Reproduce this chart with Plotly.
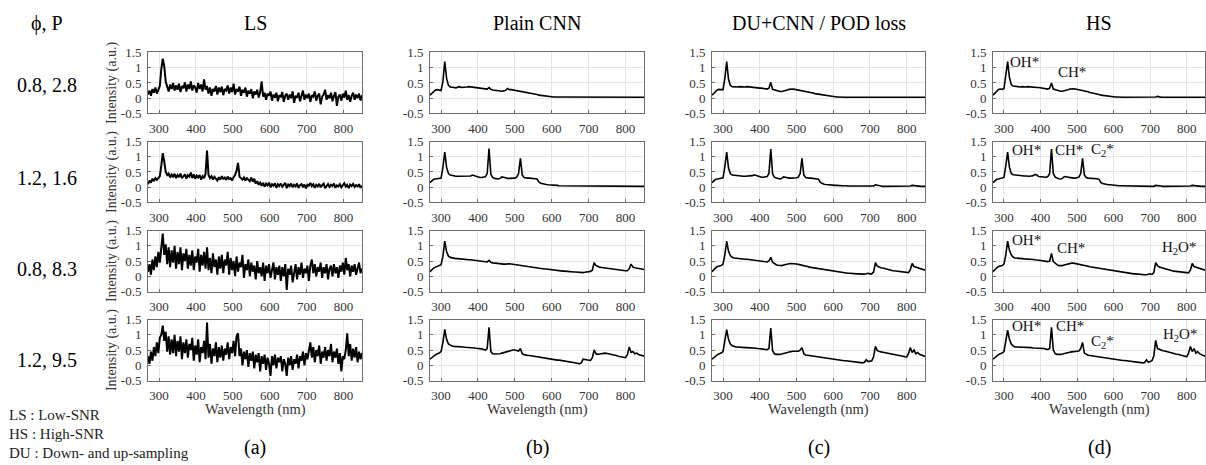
import plotly.graph_objects as go

# ---------------- data ----------------
WL_LS = list(range(270, 851, 4))   # low-SNR sampling grid (nm)
WL = list(range(270, 851, 5))      # reconstructed / high-SNR grid (nm)

ROW_LABELS = ["0.8, 2.8", "1.2, 1.6", "0.8, 8.3", "1.2, 9.5"]
COL_TITLES = ["LS", "Plain CNN", "DU+CNN / POD loss", "HS"]
PANEL_TAGS = ["(a)", "(b)", "(c)", "(d)"]
X_TICKS = [300, 400, 500, 600, 700, 800]
Y_TICKS = [-0.5, 0, 0.5, 1, 1.5]
Y_TICKTEXT = ["-0.5", "0", "0.5", "1", "1.5"]
NOTES = ["LS : Low-SNR", "HS : High-SNR", "DU : Down- and up-sampling"]

LS_R1 = [0.12, 0.25, 0.08, 0.30, 0.18, 0.35, 0.15, 0.28, 0.40, 0.95,
         1.30, 1.05, 0.55, 0.38, 0.22, 0.45, 0.30, 0.50, 0.25, 0.42,
         0.28, 0.48, 0.20, 0.40, 0.33, 0.52, 0.22, 0.45, 0.30, 0.55,
         0.25, 0.42, 0.35, 0.18, 0.50, 0.30, 0.45, 0.22, 0.62, 0.28,
         0.40, 0.15, 0.35, 0.08, 0.30, 0.22, 0.40, 0.12, 0.35, 0.20,
         0.38, 0.10, 0.30, 0.25, 0.42, 0.15, 0.35, 0.20, 0.48, 0.12,
         0.30, 0.22, 0.38, 0.08, 0.28, 0.18, 0.35, 0.05, 0.25, 0.15,
         0.30, 0.00, 0.22, 0.12, 0.28, 0.02, 0.20, 0.55, 0.05, 0.18,
         -0.05, 0.15, 0.08, 0.22, -0.08, 0.12, 0.02, 0.18, -0.10, 0.10,
         0.05, 0.20, -0.12, 0.08, 0.15, -0.05, 0.12, 0.00, 0.22, -0.15,
         0.08, 0.02, 0.18, -0.10, 0.10, 0.25, -0.05, 0.12, 0.00, 0.15,
         -0.12, 0.10, 0.05, 0.22, -0.08, 0.08, 0.15, -0.20, 0.05, 0.12,
         0.28, -0.05, 0.10, 0.00, 0.18, -0.10, 0.08, 0.20, -0.25, 0.05,
         0.12, -0.08, 0.15, 0.02, 0.25, -0.05, 0.10, -0.12, 0.08, 0.18,
         -0.05, 0.12, 0.00, 0.15, -0.08, 0.10]
LS_R2 = [0.10, 0.22, 0.15, 0.28, 0.20, 0.30, 0.24, 0.32, 0.36, 0.70,
         1.12, 0.85, 0.50, 0.40, 0.45, 0.32, 0.42, 0.35, 0.44, 0.30,
         0.40, 0.33, 0.45, 0.30, 0.38, 0.42, 0.28, 0.40, 0.35, 0.48,
         0.30, 0.42, 0.28, 0.38, 0.32, 0.40, 0.25, 0.36, 0.30, 0.45,
         1.20, 0.40, 0.30, 0.36, 0.25, 0.34, 0.28, 0.22, 0.33, 0.25,
         0.36, 0.28, 0.32, 0.24, 0.35, 0.27, 0.30, 0.22, 0.33, 0.40,
         0.55, 0.80, 0.35, 0.30, 0.25, 0.32, 0.22, 0.30, 0.26, 0.20,
         0.32, 0.18, 0.28, 0.12, 0.20, 0.08, 0.15, 0.05, 0.14, 0.02,
         0.12, 0.06, 0.15, 0.00, 0.10, 0.05, 0.13, -0.02, 0.10, 0.04,
         0.12, 0.02, 0.08, 0.14, -0.03, 0.09, 0.04, 0.12, 0.00, 0.08,
         0.03, 0.12, -0.02, 0.07, 0.10, 0.02, 0.09, -0.04, 0.08, 0.05,
         0.14, 0.04, 0.10, -0.02, 0.08, 0.03, 0.11, 0.00, 0.07, 0.12,
         -0.03, 0.06, 0.10, 0.01, 0.08, 0.04, 0.12, -0.02, 0.06, 0.03,
         0.10, 0.00, 0.07, 0.13, 0.02, 0.08, -0.03, 0.09, 0.04, 0.11,
         0.01, 0.07, 0.03, 0.10, -0.02, 0.06]
LS_R3 = [0.15, 0.40, 0.05, 0.55, 0.20, 0.65, 0.30, 0.80, 0.45, 1.00,
         1.40, 0.70, 1.05, 0.40, 0.95, 0.30, 0.85, 0.45, 1.00, 0.25,
         0.80, 0.40, 0.95, 0.20, 0.75, 0.50, 0.90, 0.25, 0.70, 0.35,
         0.85, 0.20, 0.65, 0.45, 0.90, 0.15, 0.70, 0.35, 0.80, 0.25,
         0.95, 0.20, 0.60, 0.10, 0.75, 0.30, 0.55, 0.05, 0.65, 0.25,
         0.70, 0.10, 0.55, 0.35, 0.80, 0.05, 0.60, 0.20, 0.50, 0.00,
         0.65, 0.15, 0.45, 0.30, 0.70, -0.05, 0.40, 0.20, 0.55, 0.00,
         0.45, 0.15, 0.35, -0.10, 0.50, 0.10, 0.30, 0.00, 0.45, -0.15,
         0.35, 0.10, 0.40, -0.05, 0.25, 0.45, -0.10, 0.30, 0.05, 0.35,
         -0.15, 0.30, 0.00, 0.40, -0.45, 0.25, 0.05, 0.35, -0.20, 0.20,
         0.40, -0.10, 0.30, 0.05, 0.45, -0.05, 0.25, 0.10, 0.35, -0.15,
         0.35, 0.55, 0.10, 0.40, 0.00, 0.30, 0.15, 0.45, -0.05, 0.30,
         0.10, 0.40, -0.10, 0.25, 0.35, 0.00, 0.40, 0.10, 0.30, -0.05,
         0.35, 0.15, 0.45, 0.05, 0.60, 0.20, 0.40, 0.00, 0.35, 0.15,
         0.40, 0.05, 0.30, 0.45, 0.10, 0.25]
LS_R4 = [0.30, 0.05, 0.45, 0.15, 0.60, 0.30, 0.75, 0.40, 0.90, 1.00,
         1.30, 0.80, 1.10, 0.45, 0.95, 0.35, 0.85, 0.40, 1.00, 0.30,
         0.80, 0.45, 0.95, 0.20, 0.75, 0.40, 0.85, 0.25, 0.70, 0.50,
         0.90, 0.15, 0.65, 0.35, 0.85, 0.10, 0.60, 0.40, 0.80, 0.20,
         1.40, 0.25, 0.70, 0.05, 0.55, 0.30, 0.75, 0.10, 0.60, 0.25,
         0.65, 0.15, 0.55, 0.35, 0.75, 0.20, 0.60, 0.40, 0.80, 0.30,
         0.95, 1.05, 0.30, 0.55, 0.00, 0.45, 0.20, 0.50, -0.05, 0.40,
         0.15, 0.45, -0.10, 0.35, 0.10, 0.40, -0.20, 0.30, 0.05, 0.35,
         -0.15, 0.25, 0.05, -0.35, 0.30, 0.00, 0.35, -0.10, 0.25, 0.10,
         0.30, -0.20, 0.20, 0.05, -0.35, 0.25, 0.00, 0.30, -0.15, 0.20,
         0.05, 0.35, -0.10, 0.30, 0.15, 0.45, 0.00, 0.40, 0.20, 0.55,
         0.75, 0.25, 0.60, 0.10, 0.50, 0.30, 0.65, 0.05, 0.45, 0.25,
         0.60, 0.15, 0.50, 0.30, 0.70, 0.10, 0.45, 0.25, 0.55, 0.05,
         0.40, -0.20, 0.30, 0.20, 0.50, 1.05, 0.30, 0.70, 0.15, 0.55,
         0.25, 0.60, 0.10, 0.45, 0.20, 0.40]

CNN_R1 = [0.10, 0.15, 0.22, 0.27, 0.28, 0.27, 0.25, 0.55, 1.20, 0.65,
          0.42, 0.37, 0.35, 0.35, 0.34, 0.35, 0.38, 0.35, 0.35, 0.36,
          0.37, 0.38, 0.37, 0.36, 0.35, 0.34, 0.34, 0.33, 0.32, 0.31,
          0.30, 0.30, 0.35, 0.29, 0.27, 0.26, 0.25, 0.24, 0.24, 0.23,
          0.24, 0.26, 0.32, 0.28, 0.28, 0.27, 0.26, 0.25, 0.24, 0.23,
          0.22, 0.20, 0.19, 0.18, 0.17, 0.16, 0.15, 0.13, 0.12, 0.10,
          0.09, 0.08, 0.07, 0.06, 0.05, 0.05, 0.04, 0.04, 0.04, 0.04,
          0.05, 0.04, 0.03, 0.03, 0.03, 0.03, 0.03, 0.03, 0.03, 0.03,
          0.03, 0.03, 0.03, 0.03, 0.03, 0.03, 0.03, 0.03, 0.03, 0.03,
          0.03, 0.03, 0.03, 0.03, 0.03, 0.03, 0.03, 0.03, 0.03, 0.03,
          0.03, 0.03, 0.03, 0.03, 0.03, 0.03, 0.03, 0.03, 0.03, 0.03,
          0.03, 0.03, 0.03, 0.03, 0.03, 0.03, 0.03]
CNN_R2 = [0.15, 0.22, 0.26, 0.27, 0.28, 0.28, 0.30, 0.65, 1.15, 0.65,
          0.45, 0.40, 0.38, 0.37, 0.36, 0.36, 0.36, 0.35, 0.35, 0.35,
          0.35, 0.36, 0.37, 0.40, 0.38, 0.34, 0.33, 0.32, 0.32, 0.32,
          0.34, 0.45, 1.27, 0.42, 0.32, 0.29, 0.27, 0.27, 0.29, 0.34,
          0.33, 0.30, 0.29, 0.29, 0.29, 0.29, 0.30, 0.33, 0.45, 0.95,
          0.40, 0.32, 0.30, 0.30, 0.30, 0.30, 0.29, 0.28, 0.27, 0.17,
          0.13, 0.11, 0.10, 0.09, 0.08, 0.08, 0.07, 0.07, 0.06, 0.06,
          0.05, 0.05, 0.05, 0.05, 0.04, 0.04, 0.04, 0.04, 0.04, 0.04,
          0.04, 0.04, 0.04, 0.03, 0.03, 0.03, 0.03, 0.03, 0.03, 0.05,
          0.05, 0.04, 0.04, 0.03, 0.03, 0.03, 0.03, 0.03, 0.03, 0.03,
          0.03, 0.03, 0.03, 0.03, 0.03, 0.03, 0.03, 0.03, 0.04, 0.05,
          0.04, 0.04, 0.03, 0.03, 0.03, 0.03, 0.03]
CNN_R3 = [0.15, 0.22, 0.27, 0.30, 0.32, 0.34, 0.38, 0.65, 1.15, 0.80,
          0.66, 0.62, 0.60, 0.59, 0.58, 0.58, 0.57, 0.56, 0.56, 0.55,
          0.55, 0.54, 0.54, 0.53, 0.52, 0.51, 0.50, 0.50, 0.49, 0.48,
          0.47, 0.47, 0.52, 0.46, 0.44, 0.43, 0.42, 0.41, 0.41, 0.40,
          0.40, 0.40, 0.41, 0.41, 0.40, 0.39, 0.39, 0.38, 0.37, 0.37,
          0.36, 0.35, 0.34, 0.33, 0.32, 0.31, 0.30, 0.29, 0.28, 0.27,
          0.26, 0.25, 0.24, 0.24, 0.23, 0.22, 0.21, 0.21, 0.20, 0.19,
          0.18, 0.18, 0.17, 0.17, 0.16, 0.16, 0.15, 0.15, 0.14, 0.14,
          0.13, 0.13, 0.12, 0.12, 0.13, 0.14, 0.15, 0.16, 0.20, 0.45,
          0.35, 0.32, 0.30, 0.29, 0.28, 0.27, 0.26, 0.25, 0.24, 0.23,
          0.22, 0.21, 0.20, 0.20, 0.19, 0.19, 0.18, 0.18, 0.25, 0.40,
          0.30, 0.28, 0.27, 0.25, 0.24, 0.23, 0.22]
CNN_R4 = [0.20, 0.26, 0.30, 0.35, 0.38, 0.40, 0.45, 0.75, 1.18, 0.85,
          0.70, 0.65, 0.63, 0.62, 0.62, 0.61, 0.61, 0.60, 0.60, 0.59,
          0.59, 0.58, 0.58, 0.57, 0.57, 0.56, 0.56, 0.55, 0.54, 0.52,
          0.50, 0.55, 1.25, 0.45, 0.38, 0.37, 0.37, 0.38, 0.38, 0.40,
          0.42, 0.44, 0.46, 0.48, 0.49, 0.50, 0.50, 0.48, 0.47, 0.55,
          0.38, 0.35, 0.33, 0.32, 0.32, 0.31, 0.30, 0.28, 0.27, 0.25,
          0.24, 0.23, 0.22, 0.21, 0.20, 0.19, 0.18, 0.18, 0.17, 0.17,
          0.17, 0.16, 0.16, 0.15, 0.15, 0.14, 0.12, 0.11, 0.10, 0.09,
          0.07, 0.05, 0.08, 0.20, 0.19, 0.18, 0.17, 0.16, 0.25, 0.50,
          0.38, 0.36, 0.37, 0.38, 0.40, 0.40, 0.39, 0.38, 0.36, 0.35,
          0.33, 0.32, 0.30, 0.29, 0.28, 0.27, 0.25, 0.35, 0.60, 0.42,
          0.45, 0.38, 0.40, 0.35, 0.33, 0.31, 0.30]

DU_R1 = [0.10, 0.17, 0.24, 0.28, 0.29, 0.28, 0.28, 0.65, 1.20, 0.62,
         0.42, 0.38, 0.37, 0.38, 0.37, 0.38, 0.37, 0.38, 0.37, 0.38,
         0.37, 0.36, 0.36, 0.35, 0.35, 0.34, 0.33, 0.33, 0.32, 0.31,
         0.30, 0.33, 0.52, 0.29, 0.27, 0.25, 0.23, 0.22, 0.22, 0.23,
         0.25, 0.27, 0.29, 0.30, 0.30, 0.29, 0.28, 0.27, 0.26, 0.25,
         0.24, 0.23, 0.21, 0.20, 0.18, 0.17, 0.15, 0.14, 0.12, 0.11,
         0.10, 0.09, 0.08, 0.07, 0.06, 0.05, 0.05, 0.04, 0.04, 0.04,
         0.03, 0.03, 0.03, 0.03, 0.03, 0.03, 0.03, 0.03, 0.03, 0.03,
         0.03, 0.03, 0.03, 0.03, 0.03, 0.03, 0.03, 0.03, 0.03, 0.03,
         0.04, 0.03, 0.03, 0.03, 0.03, 0.03, 0.03, 0.03, 0.03, 0.03,
         0.03, 0.03, 0.03, 0.03, 0.03, 0.03, 0.03, 0.03, 0.03, 0.04,
         0.04, 0.03, 0.03, 0.03, 0.03, 0.03, 0.03]
DU_R2 = [0.15, 0.22, 0.26, 0.27, 0.28, 0.29, 0.31, 0.68, 1.15, 0.63,
         0.44, 0.40, 0.39, 0.38, 0.38, 0.37, 0.37, 0.36, 0.36, 0.36,
         0.36, 0.37, 0.38, 0.41, 0.39, 0.35, 0.34, 0.33, 0.33, 0.33,
         0.35, 0.45, 1.25, 0.44, 0.33, 0.30, 0.28, 0.27, 0.29, 0.34,
         0.33, 0.31, 0.30, 0.30, 0.30, 0.30, 0.31, 0.33, 0.45, 0.95,
         0.40, 0.32, 0.30, 0.30, 0.30, 0.29, 0.29, 0.28, 0.26, 0.16,
         0.12, 0.10, 0.09, 0.08, 0.08, 0.07, 0.07, 0.06, 0.06, 0.05,
         0.05, 0.05, 0.05, 0.04, 0.04, 0.04, 0.04, 0.04, 0.04, 0.04,
         0.04, 0.04, 0.03, 0.03, 0.03, 0.03, 0.03, 0.03, 0.04, 0.08,
         0.06, 0.04, 0.04, 0.03, 0.03, 0.03, 0.03, 0.03, 0.03, 0.03,
         0.03, 0.03, 0.03, 0.03, 0.03, 0.03, 0.03, 0.03, 0.04, 0.06,
         0.05, 0.04, 0.04, 0.03, 0.03, 0.03, 0.03]
DU_R3 = [0.15, 0.22, 0.28, 0.32, 0.33, 0.35, 0.40, 0.70, 1.15, 0.82,
         0.68, 0.62, 0.60, 0.59, 0.59, 0.58, 0.57, 0.57, 0.56, 0.56,
         0.55, 0.55, 0.54, 0.53, 0.53, 0.52, 0.51, 0.50, 0.49, 0.48,
         0.47, 0.50, 0.62, 0.46, 0.41, 0.38, 0.36, 0.35, 0.35, 0.37,
         0.39, 0.40, 0.41, 0.42, 0.42, 0.41, 0.40, 0.39, 0.38, 0.36,
         0.35, 0.33, 0.32, 0.30, 0.29, 0.28, 0.26, 0.25, 0.24, 0.23,
         0.22, 0.21, 0.20, 0.19, 0.18, 0.17, 0.16, 0.15, 0.14, 0.13,
         0.13, 0.12, 0.11, 0.11, 0.10, 0.10, 0.09, 0.09, 0.08, 0.08,
         0.08, 0.07, 0.07, 0.07, 0.08, 0.10, 0.08, 0.08, 0.14, 0.45,
         0.33, 0.30, 0.28, 0.27, 0.25, 0.24, 0.22, 0.21, 0.19, 0.18,
         0.17, 0.16, 0.15, 0.14, 0.13, 0.13, 0.12, 0.12, 0.22, 0.42,
         0.32, 0.30, 0.28, 0.26, 0.24, 0.22, 0.20]
DU_R4 = [0.20, 0.26, 0.30, 0.35, 0.38, 0.40, 0.45, 0.78, 1.17, 0.85,
         0.70, 0.64, 0.61, 0.60, 0.60, 0.59, 0.59, 0.59, 0.58, 0.58,
         0.58, 0.57, 0.57, 0.56, 0.56, 0.55, 0.55, 0.54, 0.53, 0.52,
         0.51, 0.55, 1.22, 0.48, 0.38, 0.36, 0.35, 0.36, 0.37, 0.39,
         0.41, 0.43, 0.44, 0.45, 0.46, 0.46, 0.46, 0.46, 0.50, 0.58,
         0.38, 0.34, 0.33, 0.32, 0.31, 0.30, 0.29, 0.28, 0.27, 0.26,
         0.25, 0.24, 0.23, 0.22, 0.21, 0.20, 0.20, 0.19, 0.18, 0.17,
         0.17, 0.16, 0.15, 0.15, 0.14, 0.13, 0.13, 0.12, 0.11, 0.10,
         0.09, 0.08, 0.08, 0.10, 0.18, 0.12, 0.13, 0.15, 0.28, 0.62,
         0.48, 0.45, 0.44, 0.43, 0.42, 0.41, 0.40, 0.38, 0.37, 0.36,
         0.35, 0.34, 0.33, 0.31, 0.30, 0.28, 0.27, 0.38, 0.58, 0.42,
         0.50, 0.38, 0.42, 0.36, 0.33, 0.31, 0.29]

HS_R1 = [0.10, 0.17, 0.25, 0.29, 0.30, 0.29, 0.31, 0.70, 1.20, 0.68,
         0.45, 0.40, 0.39, 0.38, 0.38, 0.37, 0.38, 0.37, 0.37, 0.38,
         0.37, 0.37, 0.36, 0.36, 0.35, 0.35, 0.34, 0.33, 0.32, 0.31,
         0.30, 0.33, 0.50, 0.30, 0.28, 0.26, 0.25, 0.23, 0.23, 0.24,
         0.26, 0.28, 0.30, 0.31, 0.31, 0.30, 0.29, 0.28, 0.27, 0.25,
         0.24, 0.22, 0.21, 0.19, 0.18, 0.16, 0.15, 0.13, 0.12, 0.10,
         0.09, 0.08, 0.07, 0.06, 0.05, 0.05, 0.04, 0.04, 0.04, 0.03,
         0.03, 0.03, 0.03, 0.03, 0.03, 0.03, 0.03, 0.03, 0.03, 0.03,
         0.03, 0.03, 0.03, 0.03, 0.03, 0.03, 0.03, 0.03, 0.03, 0.04,
         0.06, 0.04, 0.03, 0.03, 0.03, 0.03, 0.03, 0.03, 0.03, 0.03,
         0.03, 0.03, 0.03, 0.03, 0.03, 0.03, 0.03, 0.03, 0.04, 0.05,
         0.05, 0.04, 0.04, 0.03, 0.03, 0.03, 0.03]
HS_R2 = [0.15, 0.22, 0.26, 0.27, 0.28, 0.29, 0.32, 0.70, 1.15, 0.65,
         0.45, 0.41, 0.40, 0.39, 0.38, 0.38, 0.37, 0.37, 0.37, 0.36,
         0.36, 0.37, 0.38, 0.42, 0.40, 0.35, 0.34, 0.33, 0.33, 0.33,
         0.35, 0.45, 1.25, 0.45, 0.33, 0.30, 0.28, 0.27, 0.29, 0.35,
         0.34, 0.31, 0.30, 0.30, 0.30, 0.30, 0.31, 0.33, 0.45, 0.95,
         0.40, 0.32, 0.30, 0.30, 0.30, 0.29, 0.29, 0.28, 0.26, 0.16,
         0.12, 0.10, 0.09, 0.08, 0.08, 0.07, 0.07, 0.06, 0.06, 0.05,
         0.05, 0.05, 0.05, 0.04, 0.04, 0.04, 0.04, 0.04, 0.04, 0.04,
         0.04, 0.04, 0.03, 0.03, 0.03, 0.03, 0.03, 0.03, 0.03, 0.06,
         0.06, 0.04, 0.04, 0.03, 0.03, 0.03, 0.03, 0.03, 0.03, 0.03,
         0.03, 0.03, 0.03, 0.03, 0.03, 0.03, 0.03, 0.03, 0.04, 0.06,
         0.05, 0.04, 0.04, 0.03, 0.03, 0.03, 0.03]
HS_R3 = [0.15, 0.22, 0.28, 0.32, 0.33, 0.35, 0.40, 0.70, 1.15, 0.85,
         0.70, 0.63, 0.60, 0.60, 0.59, 0.58, 0.58, 0.57, 0.57, 0.56,
         0.56, 0.55, 0.55, 0.54, 0.54, 0.53, 0.52, 0.51, 0.50, 0.49,
         0.48, 0.50, 0.75, 0.48, 0.42, 0.38, 0.35, 0.34, 0.35, 0.37,
         0.39, 0.41, 0.42, 0.43, 0.43, 0.42, 0.41, 0.40, 0.38, 0.37,
         0.35, 0.34, 0.33, 0.31, 0.30, 0.29, 0.27, 0.26, 0.25, 0.24,
         0.23, 0.22, 0.21, 0.20, 0.19, 0.18, 0.17, 0.16, 0.15, 0.14,
         0.13, 0.12, 0.12, 0.11, 0.10, 0.10, 0.09, 0.08, 0.08, 0.07,
         0.07, 0.06, 0.06, 0.05, 0.05, 0.06, 0.08, 0.06, 0.12, 0.45,
         0.35, 0.30, 0.28, 0.27, 0.25, 0.24, 0.22, 0.20, 0.18, 0.17,
         0.16, 0.15, 0.14, 0.13, 0.12, 0.12, 0.11, 0.11, 0.20, 0.42,
         0.32, 0.30, 0.28, 0.25, 0.23, 0.22, 0.20]
HS_R4 = [0.20, 0.26, 0.30, 0.35, 0.38, 0.40, 0.45, 0.80, 1.15, 0.85,
         0.70, 0.64, 0.60, 0.60, 0.60, 0.59, 0.60, 0.59, 0.59, 0.58,
         0.58, 0.58, 0.57, 0.57, 0.57, 0.56, 0.56, 0.55, 0.55, 0.53,
         0.52, 0.55, 1.25, 0.50, 0.38, 0.36, 0.35, 0.36, 0.37, 0.39,
         0.40, 0.42, 0.43, 0.44, 0.45, 0.46, 0.46, 0.47, 0.55, 0.75,
         0.40, 0.35, 0.33, 0.32, 0.31, 0.30, 0.30, 0.28, 0.27, 0.26,
         0.25, 0.24, 0.23, 0.22, 0.22, 0.21, 0.20, 0.19, 0.18, 0.18,
         0.17, 0.16, 0.16, 0.15, 0.14, 0.14, 0.13, 0.12, 0.12, 0.11,
         0.10, 0.09, 0.08, 0.09, 0.18, 0.10, 0.12, 0.15, 0.30, 0.82,
         0.55, 0.52, 0.50, 0.48, 0.47, 0.45, 0.44, 0.42, 0.40, 0.38,
         0.37, 0.36, 0.35, 0.33, 0.31, 0.30, 0.28, 0.40, 0.62, 0.45,
         0.55, 0.40, 0.45, 0.38, 0.35, 0.32, 0.30]

# species labels on the HS column: (row, wavelength, intensity, text)
SPECIES = [
    (0, 312, 1.20, "OH*"), (0, 443, 0.86, "CH*"),
    (1, 316, 1.23, "OH*"), (1, 434, 1.23, "CH*"), (1, 533, 1.23, "C<sub>2</sub>*"),
    (2, 316, 1.18, "OH*"), (2, 440, 0.93, "CH*"), (2, 727, 0.93, "H<sub>2</sub>O*"),
    (3, 316, 1.30, "OH*"), (3, 438, 1.30, "CH*"), (3, 532, 0.76, "C<sub>2</sub>*"),
    (3, 729, 0.98, "H<sub>2</sub>O*"),
]

SERIES = [
    [LS_R1, CNN_R1, DU_R1, HS_R1],
    [LS_R2, CNN_R2, DU_R2, HS_R2],
    [LS_R3, CNN_R3, DU_R3, HS_R3],
    [LS_R4, CNN_R4, DU_R4, HS_R4],
]

for row in SERIES:
    if len(row[0]) != len(WL_LS):
        raise ValueError(f"LS len {len(row[0])} vs {len(WL_LS)}")
    for s in row[1:]:
        if len(s) != len(WL):
            raise ValueError(f"len {len(s)} vs {len(WL)}")

# ---------------- layout ----------------
W, H = 1206, 465
COL_PX = [(148, 362), (430, 644), (712, 925), (993, 1205)]
ROW_PX = [(47, 110), (139, 202), (231, 294), (323, 386)]
ROW_LABEL_Y = [84, 178, 270, 362]
FONT = "Liberation Serif, Times New Roman, serif"
AX_COLOR = "#6e6e6e"

fig = go.Figure()
layout = dict(
    width=W, height=H, margin=dict(l=0, r=0, t=0, b=0),
    paper_bgcolor="white", plot_bgcolor="white", showlegend=False,
    font=dict(family=FONT, color="#222222"),
)
annotations = []


def px_x(p):
    return p / W


def px_y(p):
    return 1 - p / H


for r in range(4):
    for c in range(4):
        n = r * 4 + c + 1
        xa = "x" if n == 1 else f"x{n}"
        ya = "y" if n == 1 else f"y{n}"
        xs = WL_LS if c == 0 else WL
        fig.add_trace(go.Scatter(
            x=xs, y=SERIES[r][c], mode="lines", xaxis=xa, yaxis=ya,
            line=dict(color="black", width=2.0 if c == 0 else 1.6),
            hoverinfo="skip"))
        x0, x1 = COL_PX[c]
        y0, y1 = ROW_PX[r]
        common = dict(showline=True, mirror=True, linecolor=AX_COLOR, linewidth=1,
                      ticks="inside", ticklen=3, tickcolor=AX_COLOR,
                      showgrid=True, gridcolor="#e6e6e6", gridwidth=1,
                      zeroline=False, tickfont=dict(family=FONT, size=13, color="#333333"))
        layout["xaxis" if n == 1 else f"xaxis{n}"] = dict(
            domain=[px_x(x0), px_x(x1)], anchor=ya, range=[270, 850],
            tickvals=X_TICKS, ticktext=[str(v) for v in X_TICKS],
            ticklabelstandoff=3, **common)
        layout["yaxis" if n == 1 else f"yaxis{n}"] = dict(
            domain=[px_y(y1), px_y(y0)], anchor=xa, range=[-0.5, 1.5],
            tickvals=Y_TICKS, ticktext=Y_TICKTEXT, ticklabelstandoff=3, **common)


def label(xp, yp, text, size, color="black", **kw):
    d = dict(x=px_x(xp), y=px_y(yp), xref="paper", yref="paper", text=text,
             showarrow=False, xanchor="center", yanchor="middle",
             font=dict(size=size, color=color))
    d.update(kw)
    annotations.append(d)


# column titles, x labels, panel tags
for c in range(4):
    xc = (COL_PX[c][0] + COL_PX[c][1]) / 2
    label(xc, 17, COL_TITLES[c], 20)
    label(xc, 416, "Wavelength (nm)", 14.5, "#333333")
    label(xc, 455, PANEL_TAGS[c], 20)

# row labels and y titles
label(47, 17, "ϕ, P", 20)
for r in range(4):
    yc = (ROW_PX[r][0] + ROW_PX[r][1]) / 2
    label(47, ROW_LABEL_Y[r] + (r - 1.5) * 2, ROW_LABELS[r], 20)
    label(112, yc, "Intensity (a.u.)", 14, "#333333", textangle=-90)

# notes
for i, t in enumerate(NOTES):
    label(7, 422 + 19.5 * i, t, 15, "#222222", xanchor="left")

# species labels
for (r, wl, val, t) in SPECIES:
    n = r * 4 + 4
    annotations.append(dict(x=wl, y=val, xref=f"x{n}", yref=f"y{n}", text=t,
                            xanchor="left", yanchor="middle", showarrow=False,
                            font=dict(size=15, color="#111111")))

layout["annotations"] = annotations
fig.update_layout(**layout)
fig.write_html("out.html")
